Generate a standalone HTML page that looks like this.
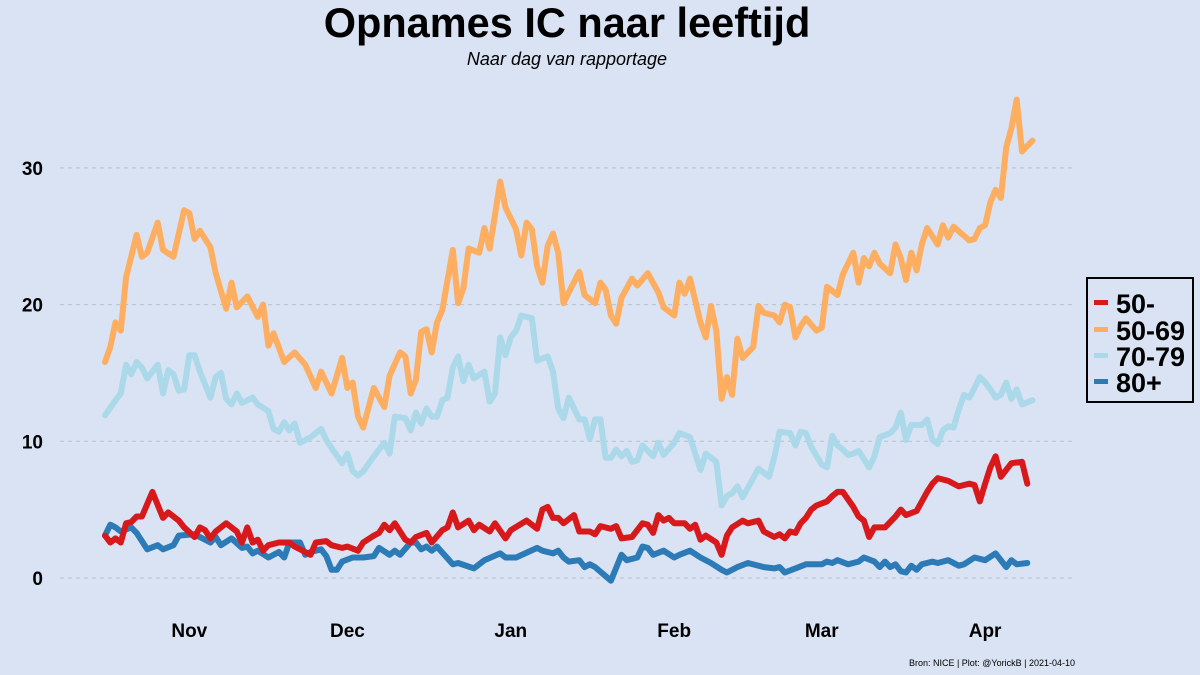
<!DOCTYPE html>
<html><head><meta charset="utf-8"><style>
body{margin:0;background:#d9e3f3;}
svg{display:block;font-family:"Liberation Sans",sans-serif;}
</style></head><body>
<svg id="chart" width="1200" height="675" viewBox="0 0 1200 675">
<rect x="0" y="0" width="1200" height="675" fill="#d9e3f3"/>
<text x="567" y="37" text-anchor="middle" font-size="41.5" font-weight="bold" fill="#000">Opnames IC naar leeftijd</text>
<text x="567" y="65" text-anchor="middle" font-size="18" font-style="italic" fill="#000">Naar dag van rapportage</text>
<g id="grid"></g><g id="yticks"></g><g id="xticks"></g><g id="lines"></g>
<g>
<rect x="1087" y="278" width="106" height="124" fill="none" stroke="#000" stroke-width="2"/>
<g><rect x="1094" y="300" width="14" height="5" fill="#d7191c"/><text x="1116" y="313" font-size="27" font-weight="bold">50-</text></g>
<g><rect x="1094" y="327" width="14" height="5" fill="#fdae61"/><text x="1116" y="340" font-size="27" font-weight="bold">50-69</text></g>
<g><rect x="1094" y="353" width="14" height="5" fill="#abd9e9"/><text x="1116" y="366" font-size="27" font-weight="bold">70-79</text></g>
<g><rect x="1094" y="379" width="14" height="5" fill="#2c7bb6"/><text x="1116" y="392" font-size="27" font-weight="bold">80+</text></g>
</g>
<text x="1075" y="666" text-anchor="end" font-size="9" fill="#000">Bron: NICE | Plot: @YorickB  |  2021-04-10</text>
</svg>
<script>
// day offsets from 2020-10-16
const monthLabels=["Nov","Dec","Jan","Feb","Mar","Apr"];
const monthDays=[16,46,77,108,136,167];
const yTicks=[0,10,20,30];
const seriesNames=["50-","50-69","70-79","80+"];
const daysOrange=[0,1,2,3,4,6,7,8,10,11,13,15,16,17,18,20,21,23,24,25,27,29,30,31,32,34,36,38,40,41,43,45,46,47,48,49,51,53,54,56,57,58,59,60,61,62,63,64,66,67,68,69,71,72,73,75,76,78,79,80,81,82,83,84,85,86,87,88,90,91,93,94,95,96,97,98,100,101,103,105,106,108,109,110,111,113,114,115,116,117,118,119,120,121,123,124,125,127,128,129,130,131,132,133,135,136,137,139,140,142,143,144,145,146,147,149,150,151,152,153,154,155,156,158,159,160,161,164,165,166,167,168,169,170,171,172,173,174,176];
const valsOrange=[15.8,16.9,18.7,18.1,22,25.1,23.5,23.8,26,24,23.5,26.9,26.7,24.8,25.4,24.2,22.3,19.7,21.6,19.8,20.6,19.1,20,17,17.9,15.8,16.5,15.6,13.9,15.1,13.5,16.1,13.9,14.3,11.8,11,13.9,12.5,14.8,16.5,16.2,13.5,14.5,18,18.2,16.5,18.7,19.6,24,20.1,21.2,24.1,23.8,25.6,24.1,29,27.1,25.5,23.6,26,25.5,22.8,21.6,24.3,25.2,23.8,20.1,20.9,22.4,20.7,20.1,21.6,21.1,19.2,18.6,20.5,21.9,21.4,22.3,20.9,19.8,19.2,21.6,20.8,21.9,18.7,17.6,19.9,18.1,13.1,14.7,13.4,17.5,16.1,16.9,19.9,19.4,19.2,18.7,20,19.8,17.6,18.4,19,18.1,18.3,21.3,20.7,22.2,23.8,21.6,23.4,22.8,23.8,23,22.3,24.4,23.4,21.8,23.8,22.5,24.4,25.6,24.4,25.8,24.9,25.7,24.7,24.8,25.6,25.8,27.5,28.4,27.8,31.5,32.9,35,31.2,32];
const daysLight=[0,2,3,4,5,6,7,8,10,11,12,13,14,15,16,17,18,20,21,22,23,24,25,26,28,29,31,32,33,34,35,36,37,39,41,42,43,45,46,47,48,49,51,53,54,55,57,58,59,60,61,62,63,64,65,66,67,68,69,70,72,73,74,75,76,77,78,79,81,82,84,85,86,87,88,90,91,92,93,94,95,96,97,98,99,100,101,102,104,105,106,108,109,111,113,114,116,117,118,119,120,121,124,126,127,128,130,131,132,133,134,136,137,138,139,140,141,142,143,145,146,147,149,150,151,152,153,155,156,157,158,159,160,161,162,163,164,165,166,167,168,169,170,171,172,173,174,176];
const valsLight=[11.9,13,13.5,15.6,14.9,15.8,15.4,14.6,15.6,13.5,15.2,14.9,13.7,13.8,16.3,16.3,15.1,13.2,14.7,15,13.1,12.7,13.5,12.8,13.2,12.7,12.2,10.9,10.7,11.4,10.8,11.3,9.9,10.3,10.9,10.1,9.5,8.4,9.1,7.8,7.5,7.8,8.9,9.9,9.1,11.8,11.7,10.8,12.1,11.3,12.4,11.8,11.8,13,13.2,15.4,16.2,14.4,15.6,14.6,15.1,12.9,13.5,17.6,16.3,17.6,18.1,19.2,19,15.9,16.2,15.1,12.4,11.7,13.2,11.6,11.6,10.2,11.6,11.6,8.8,8.8,9.4,8.9,9.3,8.5,8.6,9.7,8.9,9.9,9,9.9,10.6,10.3,7.9,9.1,8.5,5.3,6,6.2,6.7,5.9,8,7.4,8.8,10.7,10.6,9.7,10.7,10.6,9.6,8.3,8.1,10.4,9.7,9.4,9,9.1,9.3,8.1,8.9,10.3,10.6,11,12.1,10.1,11.2,11.2,11.6,10.1,9.8,10.8,11.1,11,12.3,13.4,13.2,13.9,14.7,14.3,13.8,13.2,13.4,14.3,13.1,13.8,12.7,13];
const daysRed=[0,1,2,3,4,5,6,7,9,11,12,13,14,15,17,18,19,20,21,23,24,25,26,27,28,29,30,31,33,35,36,38,39,40,42,43,45,46,48,49,51,52,53,54,55,57,58,59,61,62,64,65,66,67,69,70,71,73,74,76,77,80,82,83,84,85,86,87,89,90,92,93,94,96,97,98,100,102,103,104,105,106,107,108,110,111,112,113,114,116,117,118,119,121,122,124,125,127,128,129,130,131,132,133,134,135,137,138,139,140,142,143,144,145,146,148,149,150,151,152,154,156,157,158,160,162,164,165,166,167,168,169,170,172,174,175];
const valsRed=[3.1,2.6,2.9,2.6,4,4.1,4.5,4.5,6.3,4.4,4.8,4.5,4.2,3.7,3,3.7,3.5,2.9,3.4,4,3.7,3.4,2.6,3.7,2.6,2.8,2,2.4,2.6,2.6,2.3,1.9,1.7,2.6,2.7,2.4,2.2,2.3,2,2.6,3.1,3.3,3.9,3.5,4,2.8,2.6,3,3.3,2.6,3.5,3.7,4.8,3.7,4.2,3.5,3.9,3.4,4,2.9,3.5,4.2,3.6,5,5.2,4.4,4.4,4,4.6,3.4,3.4,3.2,3.8,3.6,3.8,2.9,3,4,3.9,3.3,4.6,4.2,4.4,4,4,3.6,3.9,2.8,3.1,2.6,1.7,3.1,3.7,4.2,4,4.2,3.4,3,3.2,2.9,3.4,3.3,4,4.4,5,5.3,5.6,6,6.3,6.3,5.2,4.5,4.2,3,3.7,3.7,4.1,4.5,5,4.6,4.9,6.3,6.9,7.3,7.1,6.7,6.9,6.8,5.6,6.9,8.1,8.9,7.4,8.4,8.5,6.9];
const daysDark=[0,1,2,3,5,6,8,10,11,13,14,17,20,21,22,24,26,27,28,29,31,33,34,35,37,38,39,41,42,43,44,45,47,49,51,52,54,55,56,58,59,60,61,62,63,66,67,70,72,75,76,78,82,83,85,86,87,88,90,91,92,93,96,98,99,101,102,103,104,106,108,109,111,113,115,117,118,120,122,125,127,128,129,131,133,136,137,138,139,141,143,144,146,147,148,149,150,151,152,153,154,155,157,158,160,162,163,165,167,169,171,172,173,175];
const valsDark=[3.1,3.9,3.7,3.4,3.7,3.3,2.1,2.4,2.1,2.4,3.1,3.2,2.6,3,2.4,2.9,2.2,2.3,1.8,2,1.5,1.9,1.5,2.6,2.6,1.7,1.9,2.1,1.6,0.6,0.6,1.2,1.5,1.5,1.6,2.2,1.7,2,1.7,2.6,2.6,2.1,2.3,2,2.3,1,1.1,0.7,1.3,1.8,1.5,1.5,2.2,2,1.8,2,1.5,1.2,1.3,0.8,1,0.8,-0.2,1.7,1.3,1.5,2.3,2.2,1.7,2,1.5,1.7,2,1.5,1.1,0.6,0.4,0.8,1.1,0.8,0.7,0.8,0.4,0.7,1,1,1.2,1.1,1.3,1,1.2,1.5,1.2,0.8,1.2,0.8,1,0.5,0.4,0.9,0.6,1,1.2,1.1,1.3,0.9,1,1.5,1.3,1.8,0.8,1.3,1,1.1];

const NS="http://www.w3.org/2000/svg";
const xScale=d=>105+5.27*d;
const yScale=v=>578-13.67*v;
function mk(tag,attrs,parent){const e=document.createElementNS(NS,tag);for(const k in attrs)e.setAttribute(k,attrs[k]);parent.appendChild(e);return e;}
const grid=document.getElementById('grid'),yt=document.getElementById('yticks'),xt=document.getElementById('xticks'),lines=document.getElementById('lines');
yTicks.forEach(v=>{
  const l=mk('line',{x1:60,x2:1072,y1:yScale(v),y2:yScale(v),stroke:'#b8c0cc','stroke-width':1,'stroke-dasharray':'4,4'},grid);
  
  
  const t=mk('text',{x:43,y:yScale(v)+7,'text-anchor':'end','font-size':19,'font-weight':'bold'},yt);
  t.textContent=v;
  
  
});
monthLabels.forEach((m,i)=>{
  const t=mk('text',{x:xScale(monthDays[i]),y:637,'text-anchor':'middle','font-size':19,'font-weight':'bold'},xt);
  t.textContent=m;
  
  
});
const series=[[daysDark,valsDark,'#2c7bb6','series-80-plus'],[daysRed,valsRed,'#d7191c','series-50-min'],[daysLight,valsLight,'#abd9e9','series-70-79'],[daysOrange,valsOrange,'#fdae61','series-50-69']];
series.forEach(s=>{
  const pts=s[0].map((d,i)=>xScale(d).toFixed(1)+','+yScale(s[1][i]).toFixed(1)).join(' ');
  const p=mk('polyline',{points:pts,fill:'none',stroke:s[2],'stroke-width':6,'stroke-linejoin':'round','stroke-linecap':'round'},lines);
  
  
});
</script>
</body></html>
